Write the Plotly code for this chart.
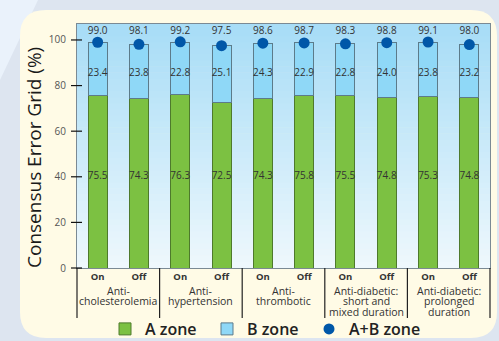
import plotly.graph_objects as go

# ---------------- data ----------------
groups = ["Anti-\ncholesterolemia", "Anti-\nhypertension", "Anti-\nthrombotic",
          "Anti-diabetic:\nshort and\nmixed duration", "Anti-diabetic:\nprolonged\nduration"]
status = ["On", "Off"]
a_zone = [75.5, 74.3, 76.3, 72.5, 74.3, 75.8, 75.5, 74.8, 75.3, 74.8]
b_zone = [23.4, 23.8, 22.8, 25.1, 24.3, 22.9, 22.8, 24.0, 23.8, 23.2]
ab_zone = [99.0, 98.1, 99.2, 97.5, 98.6, 98.7, 98.3, 98.8, 99.1, 98.0]
y_ticks = [0, 20, 40, 60, 80, 100]

# ---------------- geometry helpers ----------------
W, H = 499, 341
ML, MR, MT, MB = 77, 9, 24, 73
PW, PH = W - ML - MR, H - MT - MB
YMAX = 107.0

def px(x):
    return (x - ML) / PW

def py(y):
    return (H - MB - y) / PH

n = len(a_zone)
xs = list(range(n))
ticktext = ["<b>%s</b>" % status[i % 2] for i in xs]

GREEN = "#7cc142"
BLUE = "#8fd8f7"
DOT = "#0057a8"
TXT = "#333333"

fig = go.Figure()
fig.add_trace(go.Bar(x=xs, y=a_zone, name="A zone", width=0.46,
                     marker=dict(color=GREEN, line=dict(color="#4e7a2c", width=1))))
fig.add_trace(go.Bar(x=xs, y=b_zone, name="B zone", width=0.46,
                     marker=dict(color=BLUE, line=dict(color="#5c7b8a", width=1))))
fig.add_trace(go.Scatter(x=xs, y=ab_zone, mode="markers", name="A+B zone", legendwidth=90,
                         marker=dict(color=DOT, size=11)))
fig.add_trace(go.Scatter(x=xs, y=[103.6] * n, mode="text", text=["%.1f" % v for v in ab_zone],
                         textfont=dict(size=10, color=TXT, family="Open Sans"), showlegend=False,
                         hoverinfo="skip"))
fig.add_trace(go.Scatter(x=xs, y=[85.5] * n, mode="text", text=["%.1f" % v for v in b_zone],
                         textfont=dict(size=10, color=TXT, family="Open Sans"), showlegend=False,
                         hoverinfo="skip"))
fig.add_trace(go.Scatter(x=xs, y=[40] * n, mode="text", text=["%.1f" % v for v in a_zone],
                         textfont=dict(size=10, color=TXT, family="Open Sans"), showlegend=False,
                         hoverinfo="skip"))

shapes = []
# outer decorative diagonal
shapes.append(dict(type="path", xref="paper", yref="paper", layer="below",
                   path="M%f,%f L%f,%f L%f,%f Z" % (px(0), py(0), px(38), py(0), px(0), py(80)),
                   fillcolor="#eaf2fb", line=dict(width=0)))
# card (rounded rectangle)
L, R, T, B, r = 20, 497, 10, 338, 26
card = ("M%f,%f L%f,%f Q%f,%f %f,%f L%f,%f Q%f,%f %f,%f L%f,%f Q%f,%f %f,%f L%f,%f Q%f,%f %f,%f Z" % (
    px(L + r), py(T), px(R - r), py(T), px(R), py(T), px(R), py(T + r),
    px(R), py(B - r), px(R), py(B), px(R - r), py(B),
    px(L + r), py(B), px(L), py(B), px(L), py(B - r),
    px(L), py(T + r), px(L), py(T), px(L + r), py(T)))
shapes.append(dict(type="path", xref="paper", yref="paper", layer="below", path=card,
                   fillcolor="#fffbe6", line=dict(width=0)))
# plot-area gradient
nb = 40
c0 = (168, 221, 247)
c1 = (238, 248, 253)
for i in range(nb):
    t = i / (nb - 1)
    c = tuple(int(c1[k] + (c0[k] - c1[k]) * t) for k in range(3))
    shapes.append(dict(type="rect", xref="paper", yref="paper", layer="below",
                       x0=0, x1=1, y0=i / nb, y1=(i + 1) / nb + 0.002,
                       fillcolor="rgb(%d,%d,%d)" % c, line=dict(width=0)))
# group separators
counts = [2] * len(groups)
bounds = [0]
for c in counts:
    bounds.append(bounds[-1] + c)
for b in bounds:
    shapes.append(dict(type="line", xref="paper", yref="paper", x0=b / n, x1=b / n,
                       y0=0, y1=py(318), line=dict(color="#222222", width=1.2)))
# tick marks crossing into the plot
for v in y_ticks:
    shapes.append(dict(type="line", xref="paper", yref="paper", x0=px(71), x1=px(82),
                       y0=v / YMAX, y1=v / YMAX, line=dict(color="#111111", width=1.2)))

annotations = []
line_y = [290.5, 301, 311.5]
for gi, g in enumerate(groups):
    cx = (bounds[gi] + bounds[gi + 1]) / 2 / n
    for li, txt in enumerate(g.split("\n")):
        annotations.append(dict(x=cx, y=py(line_y[li]), xref="paper", yref="paper",
                                text=txt, showarrow=False, xanchor="center", yanchor="middle",
                                borderpad=0,
                                font=dict(size=10.5, color=TXT, family="Open Sans")))
annotations.append(dict(x=px(34), y=py(158), xref="paper", yref="paper",
                        text="Consensus Error Grid (%)", textangle=-90, showarrow=False,
                        xanchor="center", yanchor="middle",
                        font=dict(size=19, color="#1a1a1a", family="Open Sans")))

fig.update_layout(
    width=W, height=H,
    margin=dict(l=ML, r=MR, t=MT, b=MB, autoexpand=False),
    paper_bgcolor="#dde5f0",
    plot_bgcolor="rgba(0,0,0,0)",
    barmode="stack",
    bargap=0.5,
    shapes=shapes,
    annotations=annotations,
    showlegend=True,
    legend=dict(orientation="h", x=px(105), xanchor="left", y=py(329), yanchor="middle",
                entrywidth=57, bgcolor="rgba(0,0,0,0)", traceorder="normal",
                font=dict(size=16, color="#222222", family="Open Sans", weight=600)),
    xaxis=dict(range=[-0.5, n - 0.5], tickvals=xs, ticktext=ticktext, showgrid=False,
               zeroline=False, showline=True, linecolor="#7b8a94", linewidth=1, mirror=True,
               ticks="", tickfont=dict(size=9.5, color=TXT, family="Open Sans")),
    yaxis=dict(range=[0, YMAX], tickvals=y_ticks, showgrid=False, zeroline=False,
               showline=True, linecolor="#7b8a94", linewidth=1, mirror=True, ticks="",
               ticklabelstandoff=8,
               tickfont=dict(size=10, color="#555555", family="Open Sans")),
    font=dict(family="Open Sans"),
)

fig.write_html("out.html")
